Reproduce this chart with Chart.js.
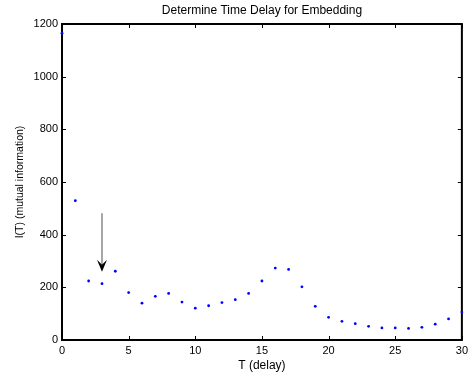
<!DOCTYPE html>
<html>
<head>
<meta charset="utf-8">
<script src="https://cdn.jsdelivr.net/npm/chart.js@4"></script>
<style>
  html, body { margin: 0; padding: 0; background: #fff; }
  #wrap { width: 472px; height: 379px; }
</style>
</head>
<body>
<div id="wrap"><canvas id="miChart" width="472" height="379"></canvas></div>
<script>
// mutual information vs delay
const delays = [0,1,2,3,4,5,6,7,8,9,10,11,12,13,14,15,16,17,18,19,20,21,22,23,24,25,26,27,28,29,30];
const mutualInfo = [1165,529,224,214,261,180,140,166,177,144,121,130,142,153,177,224,273,268,202,128,86,71,62,52,46,46,44,48,60,80,106];
const xTicks = [0,5,10,15,20,25,30];
const yTicks = [0,200,400,600,800,1000,1200];
// arrow marking the chosen delay
const arrowX = 3;
const arrowFrom = 481;
const arrowTo = 259;

const FONT = 'Liberation Sans, Arial, Helvetica, sans-serif';

// box + inward ticks on all sides (under the points), then title and arrow on top
const matlabBox = {
    id: 'matlabBox',
    beforeDatasetsDraw(chart) {
        const ctx = chart.ctx;
        const a = chart.chartArea;
        const xs = chart.scales.x, ys = chart.scales.y;
        ctx.save();
        ctx.strokeStyle = '#000';
        ctx.lineWidth = 1;
        ctx.beginPath();
        xTicks.forEach(v => {
            const px = Math.round(xs.getPixelForValue(v)) + 0.5;
            ctx.moveTo(px, a.bottom); ctx.lineTo(px, a.bottom - 4);
            ctx.moveTo(px, a.top); ctx.lineTo(px, a.top + 4);
        });
        yTicks.forEach(v => {
            const py = Math.round(ys.getPixelForValue(v)) + 0.5;
            ctx.moveTo(a.left, py); ctx.lineTo(a.left + 4, py);
            ctx.moveTo(a.right, py); ctx.lineTo(a.right - 4, py);
        });
        ctx.stroke();
        ctx.lineWidth = 2;
        ctx.strokeRect(a.left, a.top, a.right - a.left, a.bottom - a.top);
        ctx.restore();
    },
    afterDraw(chart) {
        const ctx = chart.ctx;
        const a = chart.chartArea;
        const xs = chart.scales.x, ys = chart.scales.y;
        ctx.save();
        // arrow
        const ax = xs.getPixelForValue(arrowX);
        const y0 = ys.getPixelForValue(arrowFrom);
        const y1 = ys.getPixelForValue(arrowTo);
        ctx.strokeStyle = '#777';
        ctx.lineWidth = 1.3;
        ctx.beginPath();
        ctx.moveTo(ax, y0); ctx.lineTo(ax, y1 - 6);
        ctx.stroke();
        ctx.fillStyle = '#000';
        ctx.beginPath();
        ctx.moveTo(ax, y1);
        ctx.lineTo(ax - 5, y1 - 12);
        ctx.lineTo(ax, y1 - 7);
        ctx.lineTo(ax + 5, y1 - 12);
        ctx.closePath();
        ctx.fill();

        // title
        ctx.fillStyle = '#000';
        ctx.font = '12px ' + FONT;
        ctx.textAlign = 'center';
        ctx.textBaseline = 'middle';
        ctx.fillText('Determine Time Delay for Embedding', (a.left + a.right) / 2, 11);
        ctx.restore();
    }
};

const ctx = document.getElementById('miChart').getContext('2d');
new Chart(ctx, {
    type: 'scatter',
    data: {
        datasets: [{
            data: delays.map((t, i) => ({ x: t, y: mutualInfo[i] })),
            backgroundColor: '#0000ff',
            borderColor: '#0000ff',
            pointRadius: 1.4,
            pointBorderWidth: 0,
            showLine: false,
            clip: false
        }]
    },
    options: {
        responsive: false,
        animation: false,
        layout: { padding: { top: 24, right: 7, left: 0, bottom: 0 } },
        plugins: { legend: { display: false }, tooltip: { enabled: false } },
        scales: {
            x: {
                type: 'linear', min: 0, max: 30,
                afterFit: s => { s.height = 39; },
                afterBuildTicks: s => { s.ticks = xTicks.map(v => ({ value: v })); },
                grid: { display: false, drawTicks: false },
                border: { display: false },
                ticks: { color: '#000', font: { family: FONT, size: 11 }, padding: 4, maxRotation: 0, callback: v => String(v) },
                title: { display: true, text: 'T (delay)', color: '#000', font: { family: FONT, size: 12 }, padding: { top: 0, bottom: 6 } }
            },
            y: {
                type: 'linear', min: 0, max: 1200,
                afterFit: s => { s.width = 62; },
                afterBuildTicks: s => { s.ticks = yTicks.map(v => ({ value: v })); },
                grid: { display: false, drawTicks: false },
                border: { display: false },
                ticks: { color: '#000', font: { family: FONT, size: 11 }, padding: 4, callback: v => String(v) },
                title: { display: true, text: 'I(T) (mutual information)', color: '#000', font: { family: FONT, size: 10.5 }, padding: { top: 14, bottom: 4 } }
            }
        }
    },
    plugins: [matlabBox]
});
</script>
</body>
</html>
